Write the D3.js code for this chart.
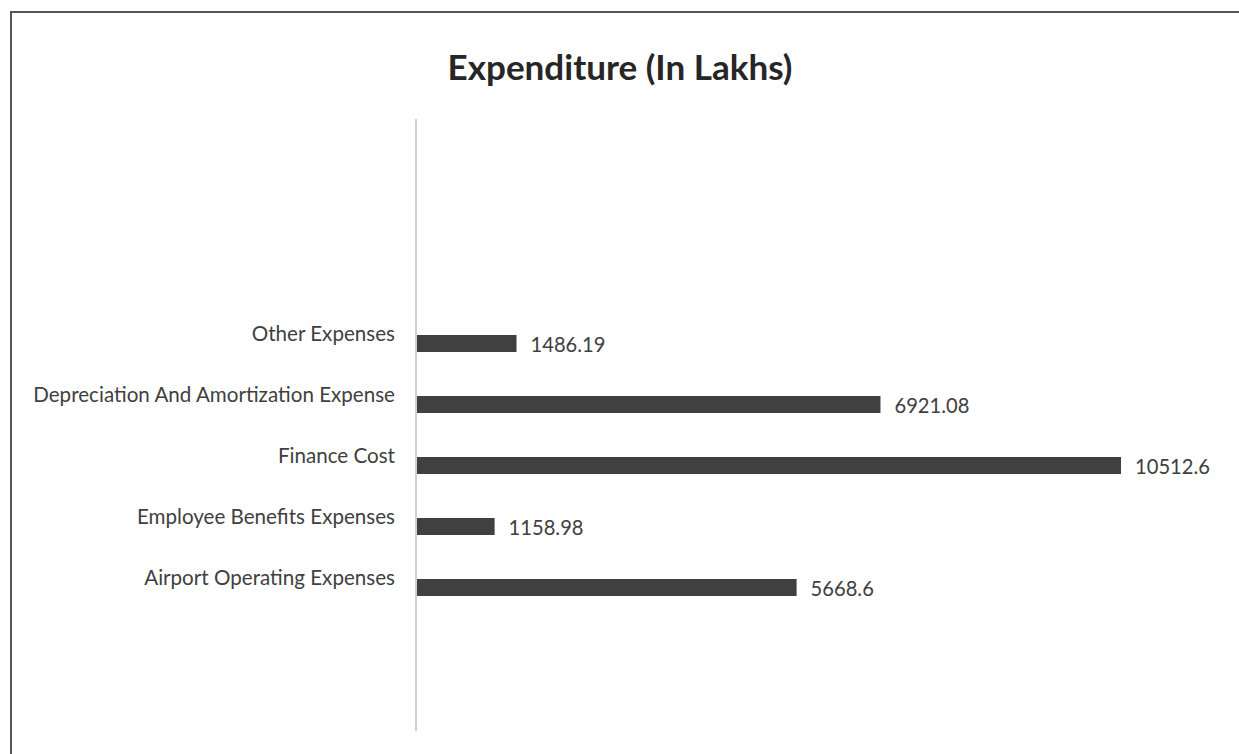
<!DOCTYPE html>
<html>
<head>
<meta charset="utf-8">
<script src="https://cdn.jsdelivr.net/npm/d3@7"></script>
<style>
    html, body { margin: 0; padding: 0; background: #fff; }
    svg { display: block; font-family: Lato, "Open Sans", sans-serif; }
</style>
</head>
<body>
<div id="chart"></div>
<script>
// Chart data (top to bottom as shown)
const categories = [
    'Other Expenses',
    'Depreciation And Amortization Expense',
    'Finance Cost',
    'Employee Benefits Expenses',
    'Airport Operating Expenses'
];
const values = [1486.19, 6921.08, 10512.6, 1158.98, 5668.6];
const valueLabels = ['1486.19', '6921.08', '10512.6', '1158.98', '5668.6'];
const chartTitle = 'Expenditure (In Lakhs)';

const width = 1239;
const height = 754;

const svg = d3.select('#chart')
    .append('svg')
    .attr('width', width)
    .attr('height', height);

// Frame (only top and left edges are visible)
svg.append('path')
    .attr('d', `M11,${height} V12 H${width}`)
    .attr('fill', 'none')
    .attr('stroke', '#555')
    .attr('stroke-width', 2);

// Scales
const x = d3.scaleLinear()
    .domain([0, 10512.6])
    .range([417, 1121]);

const y = d3.scaleBand()
    .domain(categories)
    .range([313, 618])
    .paddingInner(0.72)
    .paddingOuter(0.36);

// Title
const title = svg.append('text')
    .attr('x', 620)
    .attr('y', 80)
    .attr('text-anchor', 'middle')
    .attr('font-weight', 'bold')
    .attr('font-size', 28)
    .attr('fill', '#262626')
    .text(chartTitle);
fitWidth(title, 345);

// Vertical axis line
svg.append('line')
    .attr('x1', 416).attr('x2', 416)
    .attr('y1', 119).attr('y2', 731)
    .attr('stroke', '#d0d0d0')
    .attr('stroke-width', 2);

// Bars
svg.selectAll('rect.bar')
    .data(values)
    .enter()
    .append('rect')
    .attr('class', 'bar')
    .attr('x', x(0))
    .attr('y', (d, i) => y(categories[i]) + y.bandwidth() / 2 - 8.5)
    .attr('width', d => x(d) - x(0))
    .attr('height', 17)
    .attr('fill', '#404040');

// Category labels
const catLabels = svg.selectAll('text.cat')
    .data(categories)
    .enter()
    .append('text')
    .attr('class', 'cat')
    .attr('x', 395)
    .attr('y', d => y(d) + y.bandwidth() / 2 - 3)
    .attr('text-anchor', 'end')
    .attr('font-size', 17)
    .attr('fill', '#404040')
    .text(d => d);

// match the widest label's width in the picture
const longest = catLabels.filter((d, i) => i === 1).node().getComputedTextLength();
catLabels.attr('font-size', 17 * 362 / longest);

// Value labels
const valLabels = svg.selectAll('text.val')
    .data(values)
    .enter()
    .append('text')
    .attr('class', 'val')
    .attr('x', d => x(d) + 14)
    .attr('y', (d, i) => y(categories[i]) + y.bandwidth() / 2 + 8.5)
    .attr('font-size', 17)
    .attr('fill', '#404040')
    .text((d, i) => valueLabels[i]);

const firstVal = valLabels.node().getComputedTextLength();
valLabels.attr('font-size', 17 * 75 / firstVal);

function fitWidth(sel, target) {
    const size = +sel.attr('font-size');
    const w = sel.node().getComputedTextLength();
    sel.attr('font-size', size * target / w);
}
</script>
</body>
</html>
